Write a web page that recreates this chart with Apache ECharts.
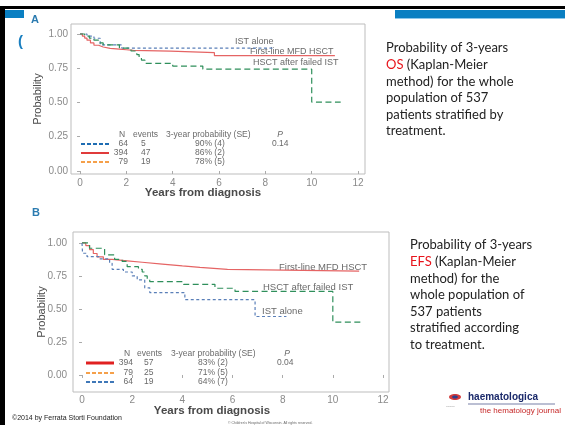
<!DOCTYPE html>
<html><head><meta charset="utf-8">
<script src="https://cdn.jsdelivr.net/npm/echarts@6/dist/echarts.min.js"></script>
<style>html,body{margin:0;padding:0;background:#fff}#c{width:565px;height:425px}</style>
</head><body><div id="c"></div>
<script>
// ---------- Data (years, probability) ----------
// Panel A: Overall survival
const osIST = [[0,1],[0.3,0.984],[0.6,0.969],[0.87,0.92],[1.8,0.897],[8.4,0.897]];
const osMFD = [[0,1],[0.1,0.985],[0.2,0.97],[0.3,0.955],[0.45,0.935],[0.6,0.918],[0.8,0.905],[1.0,0.895],[1.3,0.89],[1.7,0.885],[2.0,0.88],[2.3,0.875],[3.9,0.864],[5.8,0.842],[11.0,0.842]];
const osHSCT = [[0,1],[0.2,0.985],[0.4,0.97],[0.6,0.955],[0.8,0.935],[1.0,0.92],[1.7,0.897],[2.2,0.876],[2.45,0.85],[2.55,0.83],[2.65,0.81],[2.8,0.786],[4.0,0.766],[5.3,0.743],[10.0,0.503],[11.25,0.503]];
// Panel B: Event-free survival
const efsMFD = [[0,1],[0.15,0.98],[0.3,0.95],[0.45,0.92],[0.6,0.895],[0.85,0.876],[1.2,0.865],[1.8,0.854],[2.4,0.84],[3.2,0.826],[4.0,0.815],[4.7,0.8],[5.8,0.786],[11.05,0.786]];
const efsHSCT = [[0,1],[0.3,0.96],[0.9,0.91],[1.3,0.876],[1.6,0.86],[1.8,0.82],[2.25,0.8],[2.4,0.78],[2.5,0.75],[2.6,0.725],[2.7,0.707],[4.05,0.687],[5.3,0.657],[6.1,0.633],[10.0,0.4],[11.2,0.4]];
const efsIST = [[0,1],[0.02,0.922],[0.2,0.896],[0.7,0.88],[1.1,0.846],[1.2,0.8],[1.65,0.78],[2.0,0.75],[2.2,0.72],[2.5,0.66],[2.7,0.624],[4.1,0.57],[6.9,0.443],[8.15,0.443]];

const xTicks = [0,2,4,6,8,10,12];
const yTicks = [0,0.25,0.5,0.75,1];

// Legend tables
const tabHeader = ['N','events','3-year probability (SE)','P'];
const tabA_N = ['64','394','79'];
const tabA_events = ['5','47','19'];
const tabA_prob = ['90% (4)','86% (2)','78% (5)'];
const tabA_p = '0.14';
const tabB_N = ['394','79','64'];
const tabB_events = ['57','25','19'];
const tabB_prob = ['83% (2)','71% (5)','64% (7)'];
const tabB_p = '0.04';

const curveLabelsA = ['IST alone','First-line MFD HSCT','HSCT after failed IST'];
const curveLabelsB = ['First-line MFD HSCT','HSCT after failed IST','IST alone'];
const xTitle = 'Years from diagnosis';
const yTitle = 'Probability';
const noteA = 'Probability of 3-years\n{r|OS} (Kaplan-Meier\nmethod) for the whole\npopulation of 537\npatients stratified by\ntreatment.';
const noteB = 'Probability of 3-years\n{r|EFS} (Kaplan-Meier\nmethod) for the\nwhole population of\n537 patients\nstratified according\nto treatment.';

// ---------- Styles ----------
const F = 'Liberation Sans, Arial, sans-serif';
const cRed = '#e56464', cGreen = '#2f8f5b', cBlue = '#5a7fb8';
const gray = '#6a6a6a';

const chart = echarts.init(document.getElementById('c'), null, {renderer:'canvas'});

function xAx(gi, min, max, margin){
  return {type:'value', gridIndex:gi, min:min, max:max,
    axisLine:{show:false}, splitLine:{show:false},
    axisTick:{show:true, customValues:xTicks, length:3, lineStyle:{color:'#aaa'}},
    axisLabel:{customValues:xTicks, color:'#8a8a8a', fontSize:10, fontFamily:F, margin:margin}};
}
function yAx(gi, min, max, margin){
  return {type:'value', gridIndex:gi, min:min, max:max,
    axisLine:{show:false}, splitLine:{show:false},
    axisTick:{show:true, customValues:yTicks, length:3, lineStyle:{color:'#aaa'}},
    axisLabel:{customValues:yTicks, color:'#8a8a8a', fontSize:10, fontFamily:F, margin:margin,
      formatter:v=>v.toFixed(2)}};
}
function km(name, gi, data, color, dash){
  return {type:'line', name:name, xAxisIndex:gi, yAxisIndex:gi, data:data, step:'end',
    symbol:'none', silent:true,
    lineStyle:{color:color, width:1.2, type:dash}};
}

const G = [];
function txt(x,y,t,o){ G.push(Object.assign({type:'text', x:x, y:y, silent:true,
  style:Object.assign({text:t, font:'9px '+F, fill:gray, align:'left', verticalAlign:'middle'}, (o&&o.style)||{})},
  o&&o.rot?{rotation:o.rot}:{})); }
function ln(x1,y1,x2,y2,color,w,dash){ G.push({type:'line', silent:true, shape:{x1,y1,x2,y2},
  style:{stroke:color, lineWidth:w, lineDash:dash||null}}); }
function rect(x,y,w,h,c){ G.push({type:'rect', silent:true, shape:{x,y,width:w,height:h}, style:{fill:c}}); }

// slide decorations
rect(0,6,565,3,'#000');
rect(0,6,5,419,'#000');
rect(5,10,19,8,'#0a7fc2');
rect(395,10,170,8,'#0a7fc2');
rect(395,18,170,1,'#8cc6ea');
txt(18,42,'(',{style:{font:'bold 15px '+F, fill:'#1a7fc0'}});
txt(31,20,'A',{style:{font:'bold 11px '+F, fill:'#2b7bb0'}});
txt(32,213,'B',{style:{font:'bold 11px '+F, fill:'#2b7bb0'}});

// axis titles
txt(203,193,xTitle,{style:{font:'bold 11.5px '+F, fill:'#4a4a4a', align:'center'}});
txt(212,411,xTitle,{style:{font:'bold 11.5px '+F, fill:'#4a4a4a', align:'center'}});
txt(38,99,yTitle,{rot:Math.PI/2, style:{font:'11px Liberation Sans Narrow, '+F, fill:'#4a4a4a', align:'center'}});
txt(42,312,yTitle,{rot:Math.PI/2, style:{font:'11px Liberation Sans Narrow, '+F, fill:'#4a4a4a', align:'center'}});

// curve labels
txt(235,42,curveLabelsA[0]);
txt(250,52,curveLabelsA[1]);
txt(253,63,curveLabelsA[2]);
txt(279,267,curveLabelsB[0],{style:{font:'9.5px '+F}});
txt(263,287,curveLabelsB[1],{style:{font:'9.5px '+F}});
txt(262,311,curveLabelsB[2],{style:{font:'9.5px '+F}});

// legend tables
function table(hy, rowsY, cols, N, ev, pr, p, samples){
  const hs = {font:'8.5px '+F, fill:gray};
  txt(cols.nC,hy,tabHeader[0],{style:Object.assign({align:'center'},hs)});
  txt(cols.ev0,hy,tabHeader[1],{style:hs});
  txt(cols.pr0,hy,tabHeader[2],{style:hs});
  txt(cols.pC,hy,tabHeader[3],{style:{font:'italic 8.5px '+F, fill:gray, align:'center'}});
  for(let i=0;i<3;i++){
    const y=rowsY[i];
    const s=samples[i];
    ln(cols.s0,y,cols.s1,y,s.c,s.w,s.d);
    txt(cols.nR,y,N[i],{style:{font:'8.5px '+F, fill:gray, align:'right'}});
    txt(cols.evV,y,ev[i],{style:{font:'8.5px '+F, fill:gray}});
    txt(cols.prV,y,pr[i],{style:{font:'8.5px '+F, fill:gray}});
  }
  txt(cols.pV,rowsY[0],p,{style:{font:'8.5px '+F, fill:gray}});
}
table(135,[144,153,162],{nC:122,ev0:133,pr0:166,pC:280,s0:81,s1:109,nR:128,evV:141,prV:195,pV:272},
  tabA_N,tabA_events,tabA_prob,tabA_p,
  [{c:'#1f6db3',w:2,d:[4,2]},{c:'#e03b3b',w:2,d:null},{c:'#f5a04a',w:2,d:[4,2]}]);
table(354,[363,373,382],{nC:127,ev0:137,pr0:171,pC:287,s0:86,s1:114,nR:133,evV:144,prV:198,pV:277},
  tabB_N,tabB_events,tabB_prob,tabB_p,
  [{c:'#e02020',w:3,d:null},{c:'#f5a04a',w:1.8,d:[4,2]},{c:'#3f78b8',w:1.8,d:[4,2]}]);

// right-hand notes
const noteStyle = {font:'13px Lato, "Open Sans", sans-serif', fill:'#222', lineHeight:16.6,
  rich:{r:{fill:'#e8141b', font:'13px Lato, "Open Sans", sans-serif', lineHeight:16.6}}};
G.push({type:'text', x:386, y:40, silent:true, style:Object.assign({text:noteA, verticalAlign:'top', align:'left'}, noteStyle)});
G.push({type:'text', x:410, y:237, silent:true, style:Object.assign({text:noteB, verticalAlign:'top', align:'left'}, noteStyle)});

// footer
txt(12,418,'©2014 by Ferrata Storti Foundation',{style:{font:'7px '+F, fill:'#222'}});
txt(228,423,"© Children's Hospital of Wisconsin. All rights reserved.",{style:{font:'3.5px '+F, fill:'#666'}});
// logo
G.push({type:'ellipse', silent:true, shape:{cx:455,cy:397,rx:6,ry:3}, style:{fill:'#d23b3b'}});
G.push({type:'ellipse', silent:true, shape:{cx:455,cy:397,rx:3,ry:1.5}, style:{fill:'#2c3e8c'}});
txt(446,407,'~~~~~',{style:{font:'3px '+F, fill:'#555'}});
txt(468,397,'haematologica',{style:{font:'bold 10px '+F, fill:'#1b2a6b'}});
ln(468,404,555,404,'#1b2a6b',0.6);
txt(480,411,'the hematology journal',{style:{font:'8px '+F, fill:'#c62828'}});

chart.setOption({
  animation:false,
  backgroundColor:'#fff',
  grid:[
    {left:71, top:24, width:294, height:150, show:true, borderColor:'#bdbdbd', borderWidth:1, backgroundColor:'transparent'},
    {left:73, top:232, width:316, height:160, show:true, borderColor:'#bdbdbd', borderWidth:1, backgroundColor:'transparent'}
  ],
  xAxis:[xAx(0,-0.39,12.3,4), xAx(1,-0.36,12.24,3)],
  yAxis:[yAx(0,-0.022,1.073,3), yAx(1,-0.129,1.083,6)],
  series:[
    km('IST alone',0,osIST,cBlue,[3,2.5]),
    km('First-line MFD HSCT',0,osMFD,cRed,'solid'),
    km('HSCT after failed IST',0,osHSCT,cGreen,[6,3.5]),
    km('First-line MFD HSCT',1,efsMFD,cRed,'solid'),
    km('HSCT after failed IST',1,efsHSCT,cGreen,[6,3.5]),
    km('IST alone',1,efsIST,cBlue,[3,2.5])
  ],
  graphic:G
});
</script></body></html>
